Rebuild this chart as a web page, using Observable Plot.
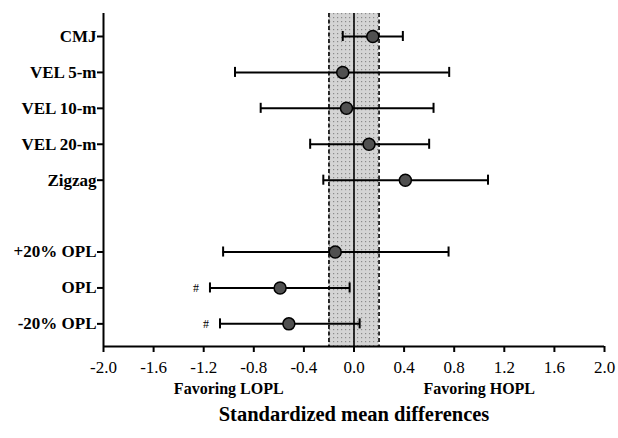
<!DOCTYPE html>
<html>
<head>
<meta charset="utf-8">
<script src="https://cdn.jsdelivr.net/npm/d3@7"></script>
<script src="https://cdn.jsdelivr.net/npm/@observablehq/plot@0.6"></script>
<style>
  html, body { margin: 0; padding: 0; background: #fff; }
  svg { display: block; }
</style>
</head>
<body>
<div id="chart"></div>
<script>
// Outcomes (row index 5 is an empty gap row)
const categories = ["CMJ", "VEL 5-m", "VEL 10-m", "VEL 20-m", "Zigzag", "+20% OPL", "OPL", "-20% OPL"];
const rows = [0, 1, 2, 3, 4, 6, 7, 8];
const smd = [0.15, -0.09, -0.06, 0.12, 0.41, -0.15, -0.59, -0.52];
const lower = [-0.09, -0.95, -0.745, -0.35, -0.245, -1.045, -1.15, -1.07];
const upper = [0.39, 0.76, 0.635, 0.60, 1.07, 0.755, -0.035, 0.045];
const flags = ["", "", "", "", "", "", "#", "#"];
const xTicks = [-2.0, -1.6, -1.2, -0.8, -0.4, 0.0, 0.4, 0.8, 1.2, 1.6, 2.0];
const trivialBand = [-0.2, 0.2];
const sideLabels = [{x: -1, text: "Favoring LOPL"}, {x: 1, text: "Favoring HOPL"}];
const xTitle = "Standardized mean differences";

const data = categories.map((c, i) => ({
  cat: c, row: rows[i], smd: smd[i], lo: lower[i], hi: upper[i], flag: flags[i]
}));

const yDomain = [-0.64, 8.63];
const serif = "'Liberation Serif', 'Times New Roman', serif";
const cap = 0.14;

const chart = Plot.plot({
  width: 618,
  height: 438,
  marginLeft: 103,
  marginRight: 14,
  marginTop: 13,
  marginBottom: 92,
  style: {fontFamily: serif, background: "#fff", color: "#000"},
  x: {domain: [-2, 2]},
  y: {domain: yDomain, reverse: true},
  marks: [
    Plot.rectX([trivialBand], {x1: d => d[0], x2: d => d[1], fill: "url(#dotpat)"}),
    Plot.ruleX(trivialBand, {stroke: "#000", strokeWidth: 1.6, strokeDasharray: "4,2.5"}),
    Plot.ruleX([0], {stroke: "#000", strokeWidth: 1.6}),
    // axis lines
    Plot.ruleX([-2], {stroke: "#000", strokeWidth: 2}),
    Plot.ruleY([yDomain[1]], {stroke: "#000", strokeWidth: 2}),
    Plot.axisX({
      ticks: xTicks, tickSize: 6, tickPadding: 8,
      tickFormat: d => d.toFixed(1),
      fontSize: 17, label: null, strokeWidth: 2
    }),
    Plot.axisY({
      ticks: rows, tickSize: 6, tickPadding: 1,
      tickFormat: d => categories[rows.indexOf(d)],
      fontSize: 17, fontWeight: "bold", label: null, strokeWidth: 2
    }),
    // error bars
    Plot.ruleY(data, {y: "row", x1: "lo", x2: "hi", stroke: "#000", strokeWidth: 2}),
    Plot.ruleX(data, {x: "lo", y1: d => d.row - cap, y2: d => d.row + cap, stroke: "#000", strokeWidth: 2}),
    Plot.ruleX(data, {x: "hi", y1: d => d.row - cap, y2: d => d.row + cap, stroke: "#000", strokeWidth: 2}),
    Plot.dot(data, {x: "smd", y: "row", r: 6, fill: "#505050", stroke: "#000", strokeWidth: 1.5}),
    Plot.text(data.filter(d => d.flag), {x: "lo", y: "row", text: "flag", dx: -14, fontSize: 12, fill: "#000"}),
    Plot.text(sideLabels, {x: "x", text: "text", frameAnchor: "bottom", dy: 47, fontSize: 16, fontWeight: "bold", fill: "#000"}),
    Plot.text([xTitle], {x: 0, text: d => d, frameAnchor: "bottom", dy: 74, fontSize: 20.5, fontWeight: "bold", fill: "#000"})
  ]
});

const svg = d3.select(chart);
const defs = svg.insert("defs", ":first-child");
const pat = defs.append("pattern")
  .attr("id", "dotpat").attr("patternUnits", "userSpaceOnUse")
  .attr("width", 4).attr("height", 4);
pat.append("rect").attr("width", 4).attr("height", 4).attr("fill", "#d4d4d4");
pat.append("rect").attr("x", 1).attr("y", 1).attr("width", 1.2).attr("height", 1.2).attr("fill", "#8a8a8a");

document.getElementById("chart").appendChild(chart);
</script>
</body>
</html>
